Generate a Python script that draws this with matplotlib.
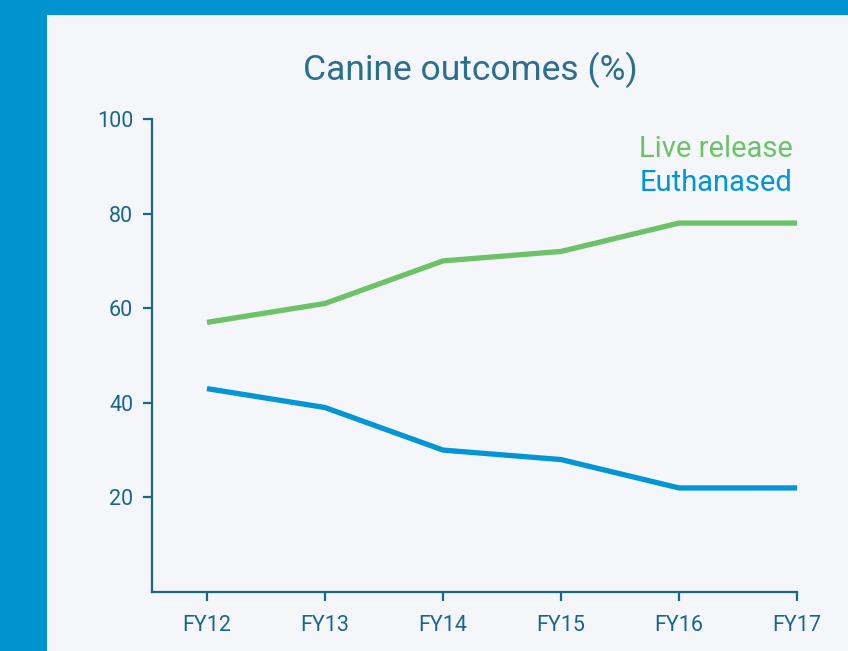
import matplotlib.pyplot as plt
from matplotlib.patches import Rectangle

# data
years = ['FY12', 'FY13', 'FY14', 'FY15', 'FY16', 'FY17']
live_release = [57, 61, 70, 72, 78, 78]
euthanased = [43, 39, 30, 28, 22, 22]
y_ticks = [20, 40, 60, 80, 100]

green = '#6cc267'
blue = '#0096d6'
border = '#0093d0'
axcol = '#17678c'
bg = '#f4f6fa'

plt.rcParams['font.family'] = ['Roboto', 'DejaVu Sans']

fig = plt.figure(figsize=(8.48, 6.51), dpi=100)
fig.patch.set_facecolor(border)
# inner light panel
fig.patches.append(Rectangle((47 / 848, 0), 1, 1 - 15 / 651,
                             transform=fig.transFigure, facecolor=bg,
                             edgecolor='none', zorder=-5))

ax = fig.add_axes([152 / 848, 59 / 651, (797 - 152) / 848, (592 - 119) / 651])
ax.set_facecolor('none')
ax.set_zorder(2)

x = list(range(len(years)))
ax.plot(x, live_release, color=green, lw=3.8, solid_capstyle='butt', clip_on=False)
ax.plot(x, euthanased, color=blue, lw=3.8, solid_capstyle='butt', clip_on=False)

ax.set_xlim(-55 / 118, 5)
ax.set_ylim(0, 100)
ax.set_xticks(x)
ax.set_xticklabels(years)
ax.set_yticks(y_ticks)

for s in ['top', 'right']:
    ax.spines[s].set_visible(False)
for s in ['left', 'bottom']:
    ax.spines[s].set_color(axcol)
    ax.spines[s].set_linewidth(1.6)
ax.tick_params(colors=axcol, labelsize=15.5, length=6.5, width=1.6)
ax.tick_params(axis='x', pad=10)
ax.tick_params(axis='y', pad=7)

fig.text(470 / 848, 1 - 70 / 651, 'Canine outcomes (%)', ha='center',
         va='center', fontsize=25.5, color='#2a6f8f')
fig.text(793 / 848, 1 - 149 / 651, 'Live release', ha='right', va='center',
         fontsize=21, color=green)
fig.text(793 / 848, 1 - 183 / 651, 'Euthanased', ha='right', va='center',
         fontsize=21, color=blue)

fig.savefig('out.png', dpi=100, facecolor=fig.get_facecolor())
